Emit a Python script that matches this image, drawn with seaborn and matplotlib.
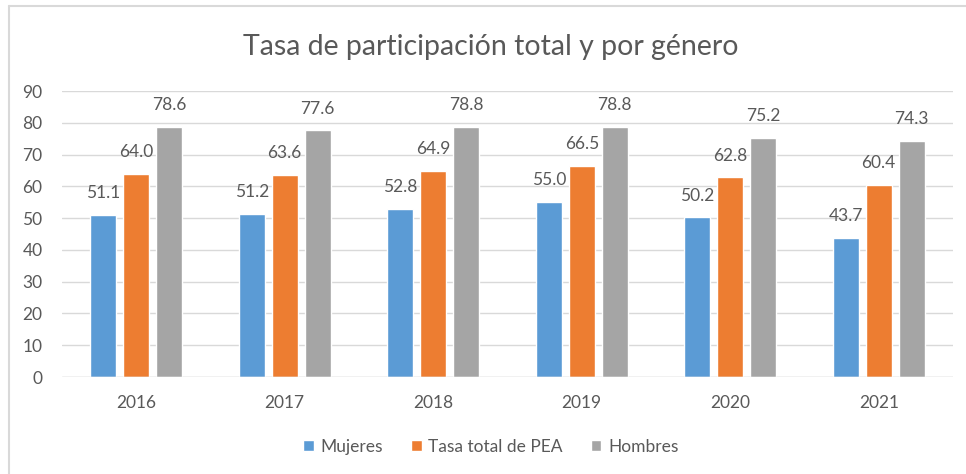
import pandas as pd
import matplotlib.pyplot as plt
import seaborn as sns
from matplotlib.lines import Line2D

# Data
years = ['2016', '2017', '2018', '2019', '2020', '2021']
mujeres = [51.1, 51.2, 52.8, 55.0, 50.2, 43.7]
total_pea = [64.0, 63.6, 64.9, 66.5, 62.8, 60.4]
hombres = [78.6, 77.6, 78.8, 78.8, 75.2, 74.3]
series = ['Mujeres', 'Tasa total de PEA', 'Hombres']
colors = ['#5B9BD5', '#ED7D31', '#A5A5A5']

df = pd.DataFrame({
    'Año': years * 3,
    'Serie': [series[0]] * 6 + [series[1]] * 6 + [series[2]] * 6,
    'Valor': mujeres + total_pea + hombres,
})

sns.set_style('white')
plt.rcParams['font.family'] = ['Lato', 'DejaVu Sans']
txt = '#595959'

fig = plt.figure(figsize=(9.66, 4.74), dpi=100)
ax = fig.add_axes([62 / 966, 1 - 377 / 474, (953 - 62) / 966, (377 - 91) / 474])

sns.barplot(data=df, x='Año', y='Valor', hue='Serie', palette=colors,
            width=0.667, gap=0.22, ax=ax, saturation=1, legend=True)

for c in ax.containers:
    ax.bar_label(c, fmt='%.1f', padding=10, fontsize=12.5, color=txt)

ax.set_ylim(0, 90)
ax.set_yticks(range(0, 91, 10))
ax.set_xlim(-0.5, 5.5)
ax.grid(axis='y', color='#D9D9D9', linewidth=1)
ax.set_axisbelow(True)
for s in ax.spines.values():
    s.set_visible(False)
ax.axhline(0, color='#D9D9D9', linewidth=1)
ax.tick_params(axis='y', length=0, pad=14, labelsize=12.5, labelcolor=txt)
ax.tick_params(axis='x', length=0, pad=13, labelsize=12.5, labelcolor=txt)
ax.set_xlabel('')
ax.set_ylabel('')

handles, labels = ax.get_legend_handles_labels()
ax.get_legend().remove()
fig.legend(handles, labels, loc='center', bbox_to_anchor=(491 / 966, 1 - 447 / 474),
           ncol=3, frameon=False, fontsize=12.5, labelcolor=txt,
           handlelength=0.6, handleheight=0.6, handletextpad=0.4, columnspacing=1.6)

fig.text(491 / 966, 1 - 47 / 474, 'Tasa de participación total y por género',
         ha='center', va='center', fontsize=20.5, color=txt, fontweight='normal')

# chart border (top and left edges visible)
fig.add_artist(Line2D([9 / 966, 1], [1 - 6 / 474, 1 - 6 / 474], color='#D9D9D9', linewidth=1.5))
fig.add_artist(Line2D([9 / 966, 9 / 966], [0, 1 - 6 / 474], color='#D9D9D9', linewidth=1.5))

fig.savefig('out.png', dpi=100)
